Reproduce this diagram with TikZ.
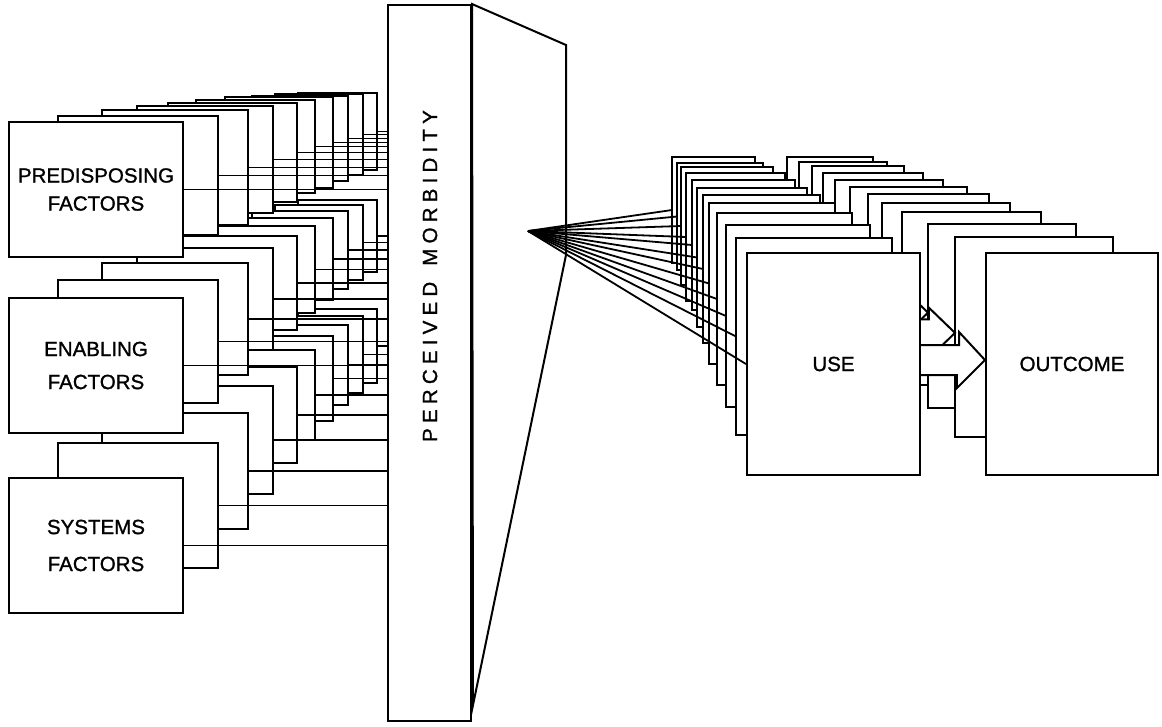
\documentclass[tikz,border=0pt]{standalone}
\usepackage{fontspec}
\setmainfont{Liberation Sans}
\newfontfamily\labfont{Liberation Sans}[FakeBold=1.2]
\def\dLs{{9,58,102,137,168,196,225,252,275,298}}
\def\dRs{{183,218,248,273,297,315,333,348,363,377}}
\def\dPT{{122,116,110,106,103,100,97,96,94,93}}
\def\dPB{{257,235,225,213,202,193,188,181,175,170}}
\def\dET{{298,280,263,248,236,226,218,211,205,200}}
\def\dEB{{433,403,375,350,330,313,300,289,280,272}}
\def\dST{{478,443,413,386,367,350,336,325,316,309}}
\def\dSB{{613,568,529,494,463,440,421,405,393,383}}
\def\dUL{{747,736,726,717,709,703,697,692,686,681,677,672}}
\def\dUR{{920,892,870,852,835,820,807,795,785,773,763,755}}
\def\dUT{{253,238,225,213,203,195,188,180,173,167,163,157}}
\def\dUB{{475,435,407,385,364,343,327,310,301,285,270,263}}
\def\dCL{{986,955,928,902,882,868,850,835,823,812,799,787}}
\def\dCR{{1158,1113,1076,1041,1010,989,967,943,923,904,887,873}}
\def\dCT{{253,237,224,212,203,194,187,180,173,166,162,157}}
\def\dCB{{475,437,408,385,362,347,338,318,300,281,272,267}}
\newcommand\lstackbox[2]{%
  \pgfmathsetmacro\xT{#1[\i]}%
  \pgfmathsetmacro\xB{#2[\i]}%
  \filldraw[box] (\xL,\xT) rectangle (\xR,\xB);
  \draw[conn] (\xR,{(\xT+\xB)/2}) -- (388,{(\xT+\xB)/2});
}
\newcommand\kk{\kern5.2pt}
\begin{document}
\begin{tikzpicture}[x=1pt,y=-1pt,
  box/.style={draw=black, fill=white, line width=2pt, line join=miter},
  conn/.style={draw=black, line width=1.8pt},
  mainbox/.style={draw=black, fill=white, line width=2.1pt, inner sep=0pt,
    font=\labfont\fontsize{20.5}{28}\selectfont, align=center},
  lab/.style={font=\labfont\fontsize{20.5}{28}\selectfont}]
\useasboundingbox (0,0) rectangle (1162,726);
% ---------- left stacks (back to front) ----------
\foreach \i in {9,8,...,1}{
  \pgfmathsetmacro\xL{\dLs[\i]}
  \pgfmathsetmacro\xR{\dRs[\i]}
  \lstackbox\dPT\dPB
  \lstackbox\dET\dEB
  \lstackbox\dST\dSB
}
\coordinate (sw) at (388,0);
\node[mainbox, minimum width=174pt, minimum height=135pt] (pf) at (96,189.5) {PREDISPOSING\\FACTORS};
\node[mainbox, minimum width=174pt, minimum height=135pt] (ef) at (96,365.5) {ENABLING\\[5pt]FACTORS};
\node[mainbox, minimum width=174pt, minimum height=135pt] (sf) at (96,545.5) {SYSTEMS\\[9pt]FACTORS};
\draw[conn] (pf.east) -- (pf.east -| sw);
\draw[conn] (ef.east) -- (ef.east -| sw);
\draw[conn] (sf.east) -- (sf.east -| sw);
% ---------- slab ----------
\node[draw=black, fill=white, line width=2pt, minimum width=83pt, minimum height=716pt, inner sep=0pt] (slab) at (429.5,363) {};
\filldraw[box] (slab.north east) -- (566,45) -- (566,255) -- (473,705) -- cycle;
\node[lab, rotate=90] (pm) at (430,276) {P\kk E\kk R\kk C\kk E\kk I\kk V\kk E\kk D\kk\ \kk M\kk O\kk R\kk B\kk I\kk D\kk I\kk T\kk Y};
% ---------- right stacks ----------
\coordinate (fan) at (528,231);
\foreach \i in {11,10,...,1}{
  \pgfmathsetmacro\xUL{\dUL[\i]}
  \pgfmathsetmacro\xUR{\dUR[\i]}
  \pgfmathsetmacro\xUT{\dUT[\i]}
  \pgfmathsetmacro\xUB{\dUB[\i]}
  \pgfmathsetmacro\xCL{\dCL[\i]}
  \pgfmathsetmacro\xCR{\dCR[\i]}
  \pgfmathsetmacro\xCT{\dCT[\i]}
  \pgfmathsetmacro\xCB{\dCB[\i]}
  \filldraw[box] (\xCL,\xCT) rectangle (\xCR,\xCB);
  \filldraw[box] (\xUL,\xUT) rectangle (\xUR,\xUB);
  \pgfmathsetmacro\xs{(\xUR-\xUL)/173}
  \pgfmathsetmacro\xcy{(\xUT+\xUB)/2-4*\xs}
  \pgfmathsetmacro\xha{15*\xs}
  \pgfmathsetmacro\xhb{28*\xs}
  \pgfmathsetmacro\xhl{29*\xs}
  \filldraw[box] (\xUR,{\xcy-\xha}) -- ({\xCL-\xhl},{\xcy-\xha}) -- ({\xCL-\xhl},{\xcy-\xhb})
     -- (\xCL,\xcy) -- ({\xCL-\xhl},{\xcy+\xhb}) -- ({\xCL-\xhl},{\xcy+\xha}) -- (\xUR,{\xcy+\xha});
  \draw[conn] (fan) -- (\xUL,{(\xUT+\xUB)/2});
}
\node[mainbox, minimum width=172pt, minimum height=222pt] (out) at (1072,364) {OUTCOME};
\node[mainbox, minimum width=173pt, minimum height=222pt] (use) at (833.5,364) {USE};
\draw[conn] (fan) -- (use.west);
\draw[box] ([yshift=19pt]use.east) -- ++(38,0) -- ++(0,-13) -- ([yshift=4pt]out.west)
   -- ++(-28,28) -- ++(0,-13) -- ([yshift=-11pt]use.east);
\end{tikzpicture}
\end{document}
